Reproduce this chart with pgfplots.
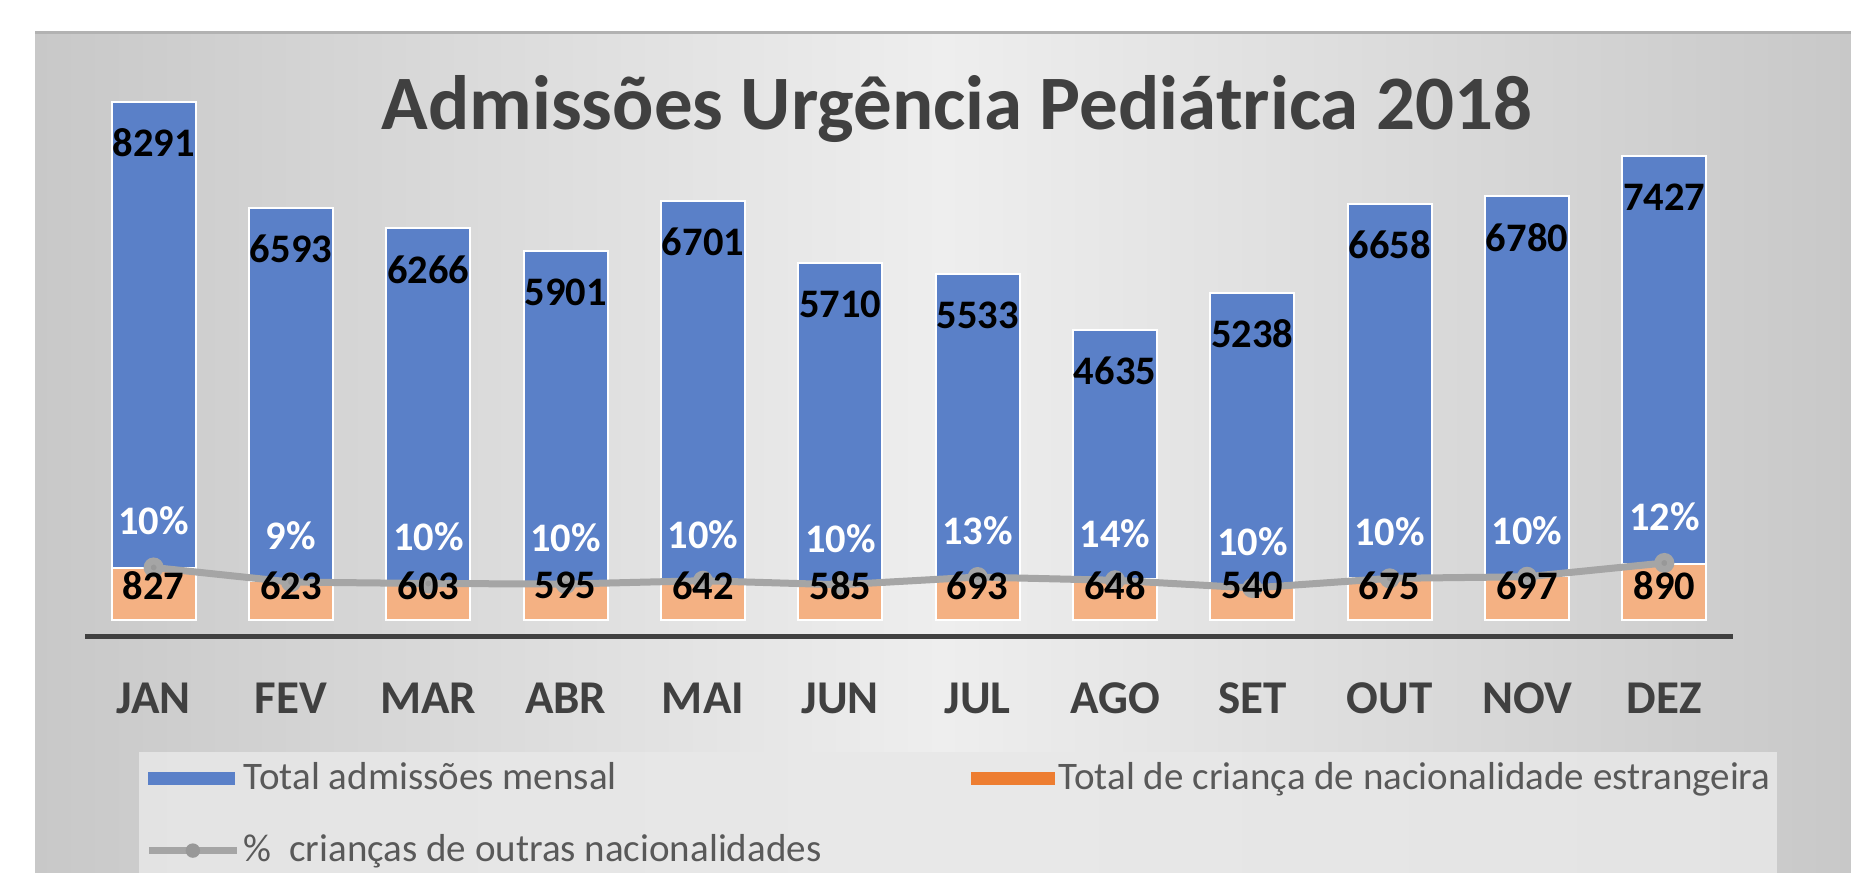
\documentclass[border=0pt]{standalone}
\usepackage{pgfplots}
\pgfplotsset{compat=1.18}
\usepackage{fontspec}
\setmainfont{Carlito}
\definecolor{barblue}{HTML}{5A80C8}
\definecolor{peach}{HTML}{F4B183}
\definecolor{orangeleg}{HTML}{ED7D31}
\definecolor{linegray}{HTML}{A5A5A5}
\definecolor{darktext}{HTML}{404040}
\definecolor{legtext}{HTML}{595959}
\definecolor{bgside}{HTML}{C8C8C8}
\definecolor{bgright}{HTML}{C8C8C8}
\definecolor{bgmid}{HTML}{EEEEEE}
\definecolor{legbg}{HTML}{E8E8E8}
\tikzset{lbl/.style={font=\fontsize{4.05mm}{4.6mm}\selectfont\bfseries}}
\pgfplotsset{
  base/.style={at={(8.5mm,23.6mm)}, anchor=south west, scale only axis,
    width=164.8mm, height=57.95mm, xmin=-0.5, xmax=11.5, clip=false,
    /pgf/number format/1000 sep={}, /pgf/number format/assume math mode=true}
}
\begin{document}
\begin{tikzpicture}
\path[use as bounding box] (0,0) rectangle (185.1mm,87.3mm);
\fill[white] (0,0) rectangle (185.1mm,87.3mm);
\shade[left color=bgside, right color=bgright, middle color=bgmid] (3.5mm,0) rectangle (185.1mm,84.0mm);
\draw[gray!60, line width=0.3mm] (3.5mm,84.0mm) -- (185.1mm,84.0mm);
\fill[legbg, opacity=0.85] (13.9mm,0) rectangle (177.7mm,12.1mm);

% bars
\begin{axis}[base, ymin=-272, ymax=9000,
  axis x line*=bottom, axis y line=none,
  x axis line style={draw=darktext, line width=0.5mm},
  xtick={0,...,11},
  xticklabels={JAN,FEV,MAR,ABR,MAI,JUN,JUL,AGO,SET,OUT,NOV,DEZ},
  major tick length=0pt,
  xticklabel style={anchor=center, yshift=-6.1mm, font=\fontsize{4.7mm}{5.6mm}\selectfont\bfseries, text=darktext},
  ]
\addplot[ybar, bar width=8.4mm, bar shift=0pt, fill=barblue, draw=white, line width=0.2mm,
  nodes near coords, nodes near coords align=center,
  nodes near coords style={lbl, text=black, yshift=-4.1mm}]
  coordinates {(0,8291) (1,6593) (2,6266) (3,5901) (4,6701) (5,5710)
               (6,5533) (7,4635) (8,5238) (9,6658) (10,6780) (11,7427)};
\addplot[ybar, bar width=8.4mm, bar shift=0pt, fill=peach, draw=white, line width=0.2mm]
  coordinates {(0,827) (1,623) (2,603) (3,595) (4,642) (5,585)
               (6,693) (7,648) (8,540) (9,675) (10,697) (11,890)};
\end{axis}

% percentage line (secondary scale)
\begin{axis}[base, ymin=-146, ymax=7970, hide axis]
\addplot[color=linegray, line width=0.7mm, mark=*, mark size=0.65mm,
  mark options={fill=linegray!92!black, draw=none},
  nodes near coords, point meta=explicit symbolic, nodes near coords align=center,
  nodes near coords style={lbl, text=white, yshift=4.65mm}]
  coordinates {(0,827) [10\%] (1,623) [9\%] (2,603) [10\%] (3,595) [10\%]
               (4,642) [10\%] (5,585) [10\%] (6,693) [13\%] (7,648) [14\%]
               (8,540) [10\%] (9,675) [10\%] (10,697) [10\%] (11,890) [12\%]};
\end{axis}

% labels of foreign children + legend
\begin{axis}[base, ymin=-272, ymax=9000, hide axis,
  legend columns=2,
  legend cell align=left,
  legend style={at={(rel axis cs:0.0362,-0.2086)}, anchor=north west, draw=none, fill=none,
    inner sep=0pt, nodes={inner sep=0.35mm}, font=\fontsize{3.9mm}{4.6mm}\selectfont, text=legtext,
    /tikz/every even column/.append style={column sep=14.6mm}, row sep=3.3mm},
  ]
\addplot[draw=none, mark=none, forget plot,
  visualization depends on=rawy\as\rawy,
  nodes near coords, nodes near coords align=center,
  nodes near coords style={lbl, text=black, yshift={(550-\rawy)*0.00625mm}}]
  coordinates {(0,827) (1,623) (2,603) (3,595) (4,642) (5,585)
               (6,693) (7,648) (8,540) (9,675) (10,697) (11,890)};
\addlegendimage{legend image code/.code={\fill[barblue] (0mm,-0.6mm) rectangle (8.5mm,0.6mm);}}
\addlegendentry{Total admissões mensal}
\addlegendimage{legend image code/.code={\fill[orangeleg] (0mm,-0.6mm) rectangle (8.3mm,0.6mm);}}
\addlegendentry{Total de criança de nacionalidade estrangeira}
\addlegendimage{legend image code/.code={\draw[linegray, line width=0.7mm] (0mm,0mm) -- (8.8mm,0mm); \fill[linegray!92!black] (4.4mm,0mm) circle (0.65mm);}}
\addlegendentry{\% \ crianças de outras nacionalidades}
\end{axis}

\node[font=\fontsize{7.7mm}{8.9mm}\selectfont\bfseries, text=darktext, anchor=base]
  at (95.7mm,74.3mm) {Admissões Urgência Pediátrica 2018};
\end{tikzpicture}
\end{document}
